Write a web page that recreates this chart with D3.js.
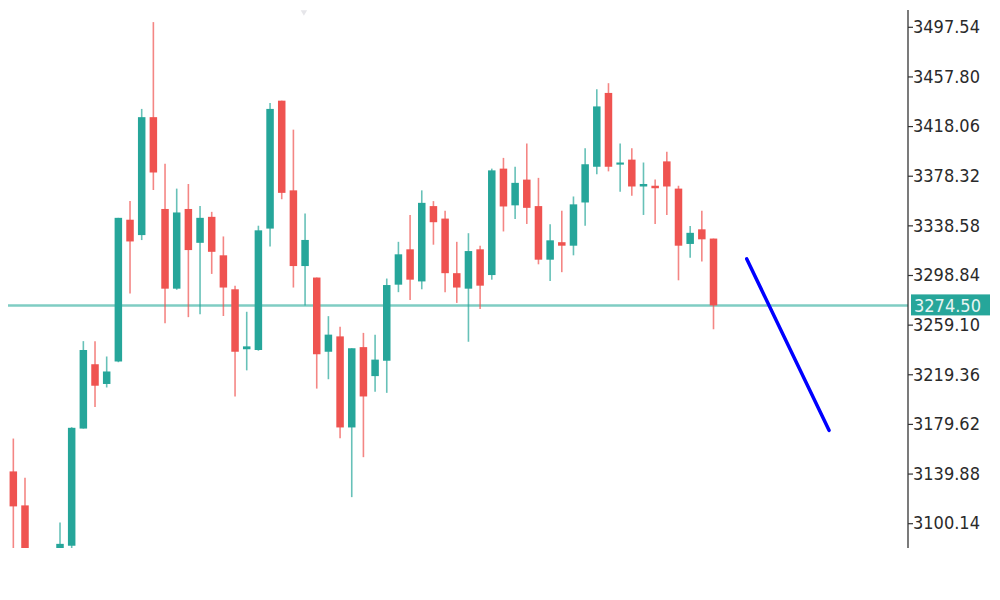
<!DOCTYPE html>
<html><head><meta charset="utf-8">
<script src="https://cdn.jsdelivr.net/npm/d3@7"></script>
<style>body{margin:0;background:#fff}svg{display:block}</style>
</head><body>
<script>
// Candle data (index 0..60); null = bar outside the visible range
const opens  = [3141.6,3114.4,null,null,3077.0,3082.1,3175.9,3227.4,3211.6,3229.6,3343.1,3330.8,3425.2,3351.7,3287.9,3351.7,3324.6,3345.4,3314.6,3287.4,3239.4,3238.8,3336.0,3438.4,3366.6,3306.0,3296.8,3237.4,3249.7,3176.8,3241.1,3217.9,3230.2,3291.1,3319.4,3293.7,3354.0,3344.0,3300.3,3287.9,3319.4,3298.8,3384.0,3354.6,3375.2,3354.0,3311.1,3325.1,3322.3,3356.9,3385.5,3444.6,3387.2,3391.2,3369.7,3370.3,3389.8,3368.0,3323.7,3335.4,3328.0];
const highs  = [3167.9,3136.5,null,null,3100.7,3177.0,3245.9,3245.9,3233.6,3344.6,3358.0,3431.8,3501.3,3388.0,3368.0,3371.7,3354.0,3349.4,3329.7,3290.3,3269.4,3338.3,3436.6,3438.4,3415.2,3348.0,3296.8,3265.9,3257.4,3240.2,3252.5,3251.1,3296.0,3325.4,3346.9,3366.6,3358.0,3350.3,3325.4,3332.3,3322.3,3384.0,3392.6,3385.5,3404.1,3376.6,3339.4,3350.3,3361.7,3400.3,3447.5,3452.4,3404.1,3400.3,3388.9,3375.2,3397.5,3370.3,3338.0,3350.3,3328.0];
const lows   = [3070.0,3060.0,null,null,3070.0,3078.0,3175.9,3193.1,3208.8,3229.0,3284.0,3326.8,3366.9,3260.2,3287.0,3265.1,3267.4,3299.7,3266.0,3201.6,3222.5,3238.2,3321.7,3359.5,3288.8,3274.5,3207.9,3215.4,3168.2,3121.0,3153.0,3205.3,3204.5,3285.1,3278.8,3287.4,3323.1,3285.1,3276.5,3245.4,3271.7,3295.1,3333.7,3343.7,3339.7,3307.4,3294.0,3301.1,3314.6,3338.3,3379.5,3381.8,3365.5,3362.3,3346.9,3339.7,3346.9,3294.6,3312.6,3309.7,3255.4];
const closes = [3113.6,3072.0,null,null,3083.6,3176.5,3238.8,3210.2,3221.6,3344.6,3325.7,3425.2,3380.9,3287.9,3348.9,3318.8,3344.6,3317.4,3288.8,3237.4,3241.7,3334.6,3431.8,3364.6,3306.0,3326.9,3235.4,3251.1,3176.8,3240.2,3201.6,3231.1,3290.8,3315.4,3295.1,3356.6,3341.1,3300.3,3288.8,3318.0,3290.3,3382.6,3353.7,3372.6,3352.6,3311.1,3326.6,3322.3,3355.4,3387.5,3433.8,3385.5,3388.9,3369.7,3371.7,3368.3,3369.7,3322.3,3332.6,3327.4,3274.5];

const tickLabels = [3497.54,3457.80,3418.06,3378.32,3338.58,3298.84,3259.10,3219.36,3179.62,3139.88,3100.14];
const lastPrice = 3274.50;
// forecast trend line: [bar index, price]
const trendIdx   = [62.85, 69.9];
const trendPrice = [3311.7, 3174.5];

const W = 1000, H = 600;
const UP = "#26a69a", DOWN = "#ef5350";
const FONT = "'DejaVu Sans Condensed', 'DejaVu Sans', sans-serif";
const svg = d3.select("body").append("svg").attr("width", W).attr("height", H);

const plotL = 8, plotR = 908, plotT = 10, plotB = 548;
const x = d3.scaleLinear().domain([0, 60]).range([13.33, 713.5]);
const y = d3.scaleLinear().domain([3100.14, 3497.54]).range([523.2, 26.8]);

svg.append("defs").append("clipPath").attr("id", "plot")
  .append("rect").attr("x", plotL).attr("y", plotT).attr("width", plotR - plotL).attr("height", plotB - plotT);

const g = svg.append("g").attr("clip-path", "url(#plot)");

// price line
g.append("line").attr("x1", plotL).attr("x2", plotR)
  .attr("y1", y(lastPrice)).attr("y2", y(lastPrice))
  .attr("stroke", "#7fcdc3").attr("stroke-width", 2.5);

const data = d3.range(opens.length).filter(i => opens[i] !== null)
  .map(i => ({i, o: opens[i], h: highs[i], l: lows[i], c: closes[i]}));

const bw = 7.5;
const cg = g.selectAll("g.c").data(data).join("g").attr("class", "c");
cg.append("line")
  .attr("x1", d => x(d.i)).attr("x2", d => x(d.i))
  .attr("y1", d => y(d.h)).attr("y2", d => y(d.l))
  .attr("stroke", d => d.c >= d.o ? UP : DOWN)
  .attr("stroke-opacity", 0.7).attr("stroke-width", 1.6);
cg.append("rect")
  .attr("x", d => x(d.i) - bw / 2).attr("width", bw)
  .attr("y", d => y(Math.max(d.o, d.c)))
  .attr("height", d => Math.max(2, Math.abs(y(d.o) - y(d.c))))
  .attr("fill", d => d.c >= d.o ? UP : DOWN);

// trend line
g.append("line")
  .attr("x1", x(trendIdx[0])).attr("y1", y(trendPrice[0]))
  .attr("x2", x(trendIdx[1])).attr("y2", y(trendPrice[1]))
  .attr("stroke", "#0000ff").attr("stroke-width", 3.5).attr("stroke-linecap", "round");

// faint marker at top
svg.append("path")
  .attr("d", d3.symbol().type(d3.symbolTriangle).size(18)())
  .attr("transform", `translate(${x(24.9)},${plotT + 2}) rotate(180)`)
  .attr("fill", "#e6e6ea");

// axis
const axis = d3.axisRight(y).tickValues(tickLabels).tickFormat(d3.format(".2f")).tickSize(5).tickPadding(0);
const ag = svg.append("g").attr("transform", `translate(${plotR},0)`).call(axis);
ag.select(".domain").remove();
ag.append("line").attr("x1", 0).attr("x2", 0).attr("y1", plotT).attr("y2", plotB)
  .attr("stroke", "#333").attr("stroke-width", 1.3);
ag.selectAll(".tick line").attr("stroke", "#333").attr("stroke-width", 1.2);
ag.selectAll(".tick text").attr("fill", "#2a2a2a")
  .style("font-family", FONT).style("font-size", "18px");

// last price label
const lp = svg.append("g").attr("transform", `translate(${plotR + 3},${y(lastPrice)})`);
lp.append("rect").attr("x", 0).attr("y", -11).attr("width", 79).attr("height", 21).attr("fill", UP);
lp.append("text").attr("x", 3).attr("y", 0).attr("dy", "0.36em")
  .attr("fill", "#e8f5f3")
  .style("font-family", FONT).style("font-size", "18px")
  .text(d3.format(".2f")(lastPrice));
</script>
</body></html>
